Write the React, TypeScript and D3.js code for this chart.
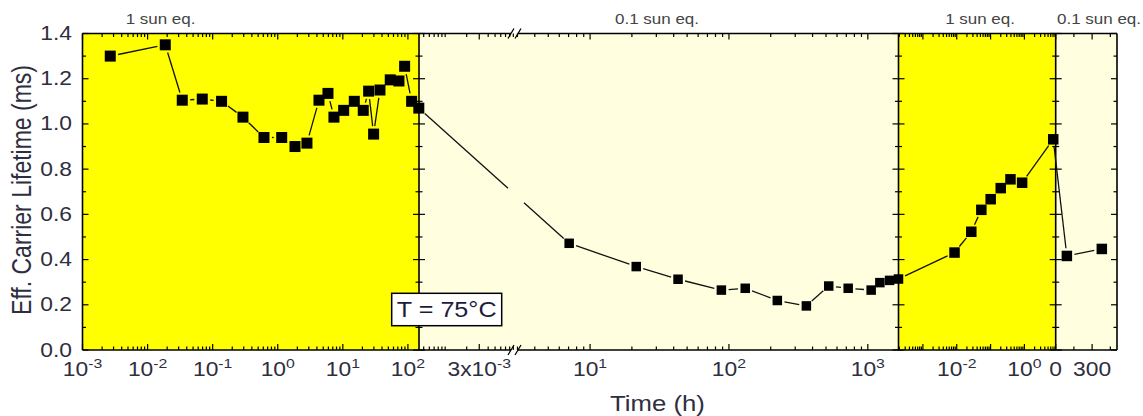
import React from 'react';
import * as d3 from 'd3';

// ---------- data ----------
const seg1Time = [0.00267, 0.0187, 0.0341, 0.0692, 0.137, 0.292, 0.614, 1.15, 1.84, 2.81, 4.3, 5.91, 7.3, 10.3, 15.0, 20.6, 24.9, 29.7, 37.2, 53.5, 72.8, 89.0, 114, 147];
const seg1Life = [1.30, 1.35, 1.105, 1.11, 1.10, 1.03, 0.94, 0.94, 0.90, 0.915, 1.105, 1.135, 1.03, 1.06, 1.10, 1.06, 1.145, 0.955, 1.15, 1.195, 1.19, 1.255, 1.10, 1.07];
const seg2Time = [7.07, 21.5, 43.0, 88.2, 131, 223, 361, 523, 722, 1057, 1221, 1434, 1663];
const seg2Life = [0.472, 0.369, 0.313, 0.265, 0.273, 0.219, 0.195, 0.283, 0.273, 0.265, 0.298, 0.308, 0.314];
const seg3Time = [0.0086, 0.0269, 0.0533, 0.1007, 0.1995, 0.387, 0.855, 7.1];
const seg3Life = [0.431, 0.523, 0.62, 0.667, 0.716, 0.755, 0.74, 0.932];
const seg4Time = [92, 380];
const seg4Life = [0.416, 0.447];

const yMajorTicks = [0, 0.2, 0.4, 0.6, 0.8, 1.0, 1.2, 1.4];
const yMinorTicks = [0.1, 0.3, 0.5, 0.7, 0.9, 1.1, 1.3];
const seg1Labels = [1e-3, 1e-2, 1e-1, 1, 10, 100];
const seg2aLabels = [3e-3];
const seg2Labels = [10, 100, 1000];
const seg3Labels = [1e-2, 1];
const seg3Majors = [1e-3, 1e-2, 1e-1, 1];
const seg4Majors = [0, 300];
const seg4Minors = [150, 450];
const regionLabels = ['1 sun eq.', '0.1 sun eq.', '1 sun eq.', '0.1 sun eq.'];

// ---------- layout ----------
const PL = 82.5, PR = 1117, PT = 33.5, PB = 350;
const B1 = 419, BRK = 515, B2 = 898.5, B3 = 1055.7;
const GAP: [number, number] = [508, 524];
const SX = 1.17;
const FONT = 'Liberation Sans, Arial, sans-serif';
const YELLOW = '#FFFF00';
const LIGHT = '#FFFFE0';

const y = d3.scaleLinear().domain([0, 1.4]).range([PB, PT]);
const x1 = d3.scaleLog().domain([1e-3, 148]).range([PL, B1]);
const x2a = d3.scaleLog().domain([4.3e-4, 9.5e-3]).range([B1, BRK]);
const x2 = d3.scaleLog().domain([2.88, 1663]).range([BRK, B2]);
const x3 = d3.scaleLog().domain([1.9e-4, 8.4]).range([B2, B3]);
const x4 = d3.scaleLinear().domain([0, 505]).range([B3, PR]);

function T(props: any) {
  const { x, y: yy, size, anchor = 'middle', rotate = false, fill = '#2e2e3e', children } = props;
  return (
    <g transform={`translate(${x},${yy}) scale(${SX},1)${rotate ? ' rotate(-90)' : ''}`}>
      <text x={0} y={0} fontSize={size} textAnchor={anchor} fill={fill} fontFamily={FONT}>{children}</text>
    </g>
  );
}

function logTicks(scale: any) {
  const [a, b] = scale.domain();
  const out: number[] = [];
  for (let e = Math.floor(Math.log10(a)); e <= Math.ceil(Math.log10(b)); e++) {
    for (let m = 1; m <= 9; m++) {
      const v = m * Math.pow(10, e);
      if (v >= a * 0.9999 && v <= b * 1.0001) out.push(v);
    }
  }
  return out;
}
const near = (a: number, b: number) => Math.abs(a - b) / Math.max(Math.abs(b), 1e-12) < 1e-6;

export default function App() {
  const segs = [
    { scale: x1, times: seg1Time, life: seg1Life, size: 11 },
    { scale: x2, times: seg2Time, life: seg2Life, size: 9.5 },
    { scale: x3, times: seg3Time, life: seg3Life, size: 10.5 },
    { scale: x4, times: seg4Time, life: seg4Life, size: 10.5 },
  ];
  const pts: [number, number, number][] = [];
  segs.forEach((s) => s.times.forEach((t, i) => pts.push([s.scale(t), y(s.life[i]), s.size])));

  const lines: number[][] = [];
  for (let i = 0; i < pts.length - 1; i++) {
    const [ax, ay, as] = pts[i];
    const [bx, by, bs] = pts[i + 1];
    const dx = bx - ax, dy = by - ay, len = Math.hypot(dx, dy);
    const ga = as / 2 + 2.5, gb = bs / 2 + 2.5;
    if (len <= ga + gb + 1) continue;
    const ux = dx / len, uy = dy / len;
    const sx = ax + ux * ga, sy = ay + uy * ga, ex = bx - ux * gb, ey = by - uy * gb;
    if (sx < GAP[0] && ex > GAP[1]) {
      const yAt = (xx: number) => sy + ((ey - sy) * (xx - sx)) / (ex - sx);
      lines.push([sx, sy, GAP[0], yAt(GAP[0])]);
      lines.push([GAP[1], yAt(GAP[1]), ex, ey]);
    } else lines.push([sx, sy, ex, ey]);
  }

  // x ticks
  type Tk = { x: number; major: boolean; label?: any };
  const xt: Tk[] = [];
  const supLabel = (base: string, e: string) => [base, e];
  logTicks(x1).forEach((v) => {
    const major = seg1Labels.some((l) => near(v, l));
    xt.push({ x: x1(v), major, label: major ? supLabel('10', String(Math.round(Math.log10(v)))) : undefined });
  });
  logTicks(x2a).forEach((v) => {
    const major = seg2aLabels.some((l) => near(v, l));
    xt.push({ x: x2a(v), major, label: major ? supLabel('3x10', '-3') : undefined });
  });
  logTicks(x2).forEach((v) => {
    const major = seg2Labels.some((l) => near(v, l));
    xt.push({ x: x2(v), major, label: major ? supLabel('10', String(Math.round(Math.log10(v)))) : undefined });
  });
  logTicks(x3).forEach((v) => {
    const major = seg3Majors.some((l) => near(v, l));
    const lab = seg3Labels.some((l) => near(v, l));
    xt.push({ x: x3(v), major, label: lab ? supLabel('10', String(Math.round(Math.log10(v)))) : undefined });
  });
  seg4Majors.forEach((v) => xt.push({ x: x4(v), major: true, label: [String(v), ''] }));
  seg4Minors.forEach((v) => xt.push({ x: x4(v), major: false }));

  const stroke = '#000';
  const bounds = [B1, B2, B3];
  const breakXs = [511, 518];

  return (
    <svg width={1143} height={416} style={{ position: 'absolute', left: 0, top: 0, background: '#fff' }}>
      {/* backgrounds */}
      <rect x={PL} y={PT} width={B1 - PL} height={PB - PT} fill={YELLOW} />
      <rect x={B1} y={PT} width={B2 - B1} height={PB - PT} fill={LIGHT} />
      <rect x={B2} y={PT} width={B3 - B2} height={PB - PT} fill={YELLOW} />
      <rect x={B3} y={PT} width={PR - B3} height={PB - PT} fill={LIGHT} />

      {/* frame */}
      <g stroke={stroke} strokeWidth={1.6} fill="none">
        <line x1={PL} y1={PT} x2={breakXs[0]} y2={PT} />
        <line x1={breakXs[1]} y1={PT} x2={PR} y2={PT} />
        <line x1={PL} y1={PB} x2={breakXs[0]} y2={PB} />
        <line x1={breakXs[1]} y1={PB} x2={PR} y2={PB} />
        <line x1={PL} y1={PT} x2={PL} y2={PB} />
        <line x1={PR} y1={PT} x2={PR} y2={PB} />
        {bounds.map((b, i) => <line key={i} x1={b} y1={PT} x2={b} y2={PB} />)}
      </g>
      {/* break marks */}
      <g stroke={stroke} strokeWidth={1.3}>
        {[PT, PB].map((yy) => breakXs.map((bx) => <line key={`${yy}-${bx}`} x1={bx - 3} y1={yy + 5} x2={bx + 3} y2={yy - 5} />))}
      </g>
      {/* y ticks */}
      <g stroke={stroke} strokeWidth={1.2}>
        {[...yMajorTicks.map((v) => [v, 6]), ...yMinorTicks.map((v) => [v, 3.5])].map(([v, l], i) => (
          <g key={i}>
            <line x1={PL} y1={y(v)} x2={PL + l} y2={y(v)} />
            <line x1={PR} y1={y(v)} x2={PR - l} y2={y(v)} />
            {bounds.map((b, j) => <line key={j} x1={b - l} y1={y(v)} x2={b + l} y2={y(v)} />)}
          </g>
        ))}
      </g>
      {/* x ticks */}
      <g stroke={stroke} strokeWidth={1.2}>
        {xt.map((t, i) => {
          const l = t.major ? 6 : 3.5;
          return (
            <g key={i}>
              <line x1={t.x} y1={PB} x2={t.x} y2={PB - l} />
              <line x1={t.x} y1={PT} x2={t.x} y2={PT + l} />
            </g>
          );
        })}
      </g>
      {/* y tick labels */}
      {yMajorTicks.map((v) => (
        <T key={v} x={72} y={y(v) + 6.5} size={19.5} anchor="end">{v.toFixed(1)}</T>
      ))}
      {/* x tick labels */}
      {xt.filter((t) => t.label).map((t, i) => (
        <T key={i} x={t.x} y={376} size={19.5}>
          {t.label[0]}
          {t.label[1] ? <tspan dy={-8.5} fontSize={13.5}>{t.label[1]}</tspan> : null}
        </T>
      ))}
      {/* region labels */}
      <T x={160.5} y={23.5} size={14.5} fill="#444">{regionLabels[0]}</T>
      <T x={657} y={24} size={14.5} fill="#444">{regionLabels[1]}</T>
      <T x={980} y={24} size={14.5} fill="#444">{regionLabels[2]}</T>
      <T x={1099} y={24} size={14.5} fill="#444">{regionLabels[3]}</T>
      {/* axis titles */}
      <T x={657.5} y={410.5} size={22}>Time (h)</T>
      <T x={31} y={190} size={23} rotate>Eff. Carrier Lifetime (ms)</T>

      {/* data */}
      <g stroke="#111" strokeWidth={1.3}>
        {lines.map((l, i) => <line key={i} x1={l[0]} y1={l[1]} x2={l[2]} y2={l[3]} />)}
      </g>
      <g fill="#000">
        {pts.map((p, i) => <rect key={i} x={p[0] - p[2] / 2} y={p[1] - p[2] / 2} width={p[2]} height={p[2]} />)}
      </g>

      {/* annotation */}
      <rect x={391.7} y={293.3} width={110} height={32.4} fill="#fff" stroke="#000" strokeWidth={1.5} />
      <T x={446.7} y={317} size={21.5} fill="#1c1c3c">T = 75°C</T>
    </svg>
  );
}
